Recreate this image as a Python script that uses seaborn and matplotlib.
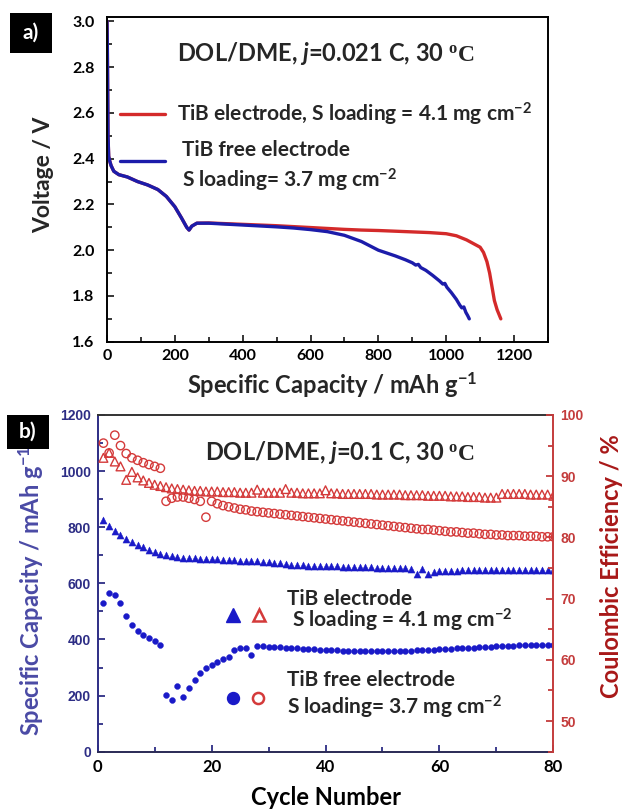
import matplotlib
matplotlib.use("Agg")
import matplotlib.pyplot as plt
from matplotlib.patches import Rectangle
from matplotlib.ticker import MultipleLocator
import seaborn as sns

# ---------------- (a) first discharge profiles ----------------
cap_tib = [0, 1, 2, 3, 5, 8, 12, 20, 35, 60, 90, 120, 150, 175, 200, 220, 235, 242, 250, 265,
           300, 350, 400, 450, 500, 550, 600, 650, 700, 750, 800, 850, 900, 950, 1000, 1030,
           1060, 1085, 1100, 1110, 1120, 1128, 1135, 1142, 1150, 1161]
volt_tib = [3.00, 2.90, 2.70, 2.50, 2.41, 2.39, 2.37, 2.345, 2.33, 2.32, 2.30, 2.285, 2.265,
            2.235, 2.19, 2.14, 2.10, 2.088, 2.105, 2.118, 2.119, 2.116, 2.113, 2.110, 2.107,
            2.103, 2.099, 2.095, 2.091, 2.088, 2.086, 2.083, 2.080, 2.077, 2.072, 2.063, 2.045,
            2.025, 2.013, 1.99, 1.95, 1.90, 1.84, 1.78, 1.74, 1.70]

cap_free = [0, 1, 2, 3, 5, 8, 12, 20, 35, 60, 90, 120, 150, 175, 200, 220, 235, 242, 250, 265,
            300, 350, 400, 450, 500, 550, 600, 650, 700, 750, 800, 850, 880, 900, 910, 918, 925,
            940, 960, 980, 990, 996, 1002, 1015, 1030, 1040, 1046, 1052, 1058, 1063, 1068]
volt_free = [3.00, 2.90, 2.70, 2.50, 2.41, 2.39, 2.37, 2.345, 2.33, 2.32, 2.30, 2.285, 2.265,
             2.235, 2.19, 2.14, 2.10, 2.088, 2.105, 2.118, 2.118, 2.114, 2.110, 2.106, 2.102,
             2.097, 2.090, 2.081, 2.065, 2.038, 2.000, 1.975, 1.958, 1.945, 1.935, 1.938, 1.924,
             1.912, 1.890, 1.866, 1.852, 1.855, 1.838, 1.815, 1.785, 1.760, 1.748, 1.752, 1.728,
             1.715, 1.700]

# ---------------- (b) cycling at 0.1 C ----------------
cycles = list(range(1, 81))
capacity_tib = [826, 806, 787, 771, 758, 747, 737, 728, 720, 713,
                706, 701, 697, 694, 692, 690, 689, 688, 687, 686,
                685, 684, 683, 682, 681, 680, 679, 678, 677, 676,
                674, 672, 669, 667, 665, 664, 663, 662, 661, 661,
                660, 660, 659, 659, 658, 658, 657, 657, 656, 656,
                655, 655, 654, 653, 652, 633, 652, 633, 640, 643,
                644, 645, 645, 646, 646, 647, 647, 647, 648, 648,
                648, 648, 648, 648, 648, 648, 648, 648, 648, 648]
capacity_free = [531, 567, 559, 529, 484, 452, 431, 417, 405, 393,
                 381, 203, 183, 235, 195, 227, 256, 282, 298, 310,
                 321, 330, 339, 361, 369, 371, 345, 375, 375, 374,
                 373, 372, 371, 370, 368, 367, 366, 365, 364, 363,
                 362, 361, 360, 360, 359, 359, 358, 358, 358, 358,
                 358, 359, 359, 360, 360, 361, 362, 363, 364, 365,
                 366, 367, 368, 369, 370, 371, 372, 373, 374, 375,
                 376, 377, 378, 379, 379, 380, 380, 380, 380, 380]
ce_tib = [93.0, 93.8, 92.4, 91.6, 89.4, 90.7, 89.8, 89.3, 88.9, 88.6,
          88.4, 88.2, 88.0, 87.9, 87.8, 87.7, 87.6, 87.6, 87.5, 87.5,
          87.5, 87.4, 87.4, 87.4, 87.3, 87.3, 87.3, 87.8, 87.3, 87.3,
          87.3, 87.3, 87.9, 87.3, 87.3, 87.2, 87.2, 87.2, 87.2, 87.7,
          87.2, 87.2, 87.1, 87.1, 87.1, 87.1, 87.1, 87.1, 87.0, 87.0,
          87.0, 87.0, 87.0, 86.9, 86.9, 86.9, 86.9, 86.8, 86.8, 86.8,
          86.8, 86.7, 86.7, 86.7, 86.6, 86.6, 86.6, 86.5, 86.5, 86.5,
          87.1, 87.1, 87.1, 87.1, 87.1, 87.0, 87.0, 87.0, 87.0, 86.8]
ce_free = [95.4, 93.8, 96.7, 95.0, 93.7, 93.0, 92.6, 92.2, 91.9, 91.6,
           91.3, 85.9, 86.4, 86.6, 86.6, 86.4, 86.2, 85.9, 83.3, 85.9,
           85.5, 85.2, 85.0, 84.8, 84.6, 84.5, 84.3, 84.2, 84.1, 84.0,
           83.9, 83.8, 83.7, 83.6, 83.5, 83.4, 83.3, 83.2, 83.1, 83.0,
           82.9, 82.8, 82.7, 82.6, 82.5, 82.4, 82.3, 82.2, 82.1, 82.0,
           81.9, 81.8, 81.7, 81.6, 81.5, 81.4, 81.3, 81.3, 81.2, 81.1,
           81.0, 80.9, 80.9, 80.8, 80.7, 80.7, 80.6, 80.5, 80.5, 80.4,
           80.4, 80.3, 80.3, 80.3, 80.2, 80.2, 80.2, 80.1, 80.1, 80.1]

RED_LINE = "#d42a2a"
BLUE_LINE = "#1c1caa"
BLUE_MK = "#1a1ac8"
RED_MK = "#d43a3a"
NAVY = "#2d2d85"
NAVY_LABEL = "#4a4aa5"
RED_AXIS = "#c43c3c"
RED_LABEL = "#a81818"

TITLE_FS = 17
LEGEND_FS = 15
LABEL_FS = 17

sns.set_theme(style="ticks")
plt.rcParams.update({
    "font.family": ["Lato", "DejaVu Sans"],
    "font.weight": "bold",
    "axes.labelweight": "bold",
    "mathtext.fontset": "custom",
    "mathtext.rm": "Liberation Serif",
    "mathtext.bf": "Lato:bold",
    "mathtext.it": "Lato:bold:italic",
    "axes.linewidth": 1.4,
    "axes.edgecolor": "black",
})

fig = plt.figure(figsize=(6.22, 8.10), dpi=100)

# ======================= panel (a) =======================
ax1 = fig.add_axes([0.1720, 0.5781, 0.7090, 0.4012])
sns.lineplot(x=cap_tib, y=volt_tib, ax=ax1, color=RED_LINE, lw=2.4,
             sort=False, estimator=None)
sns.lineplot(x=cap_free, y=volt_free, ax=ax1, color=BLUE_LINE, lw=2.4,
             sort=False, estimator=None)
ax1.set_xlim(0, 1300)
ax1.set_ylim(1.6, 3.02)
ax1.xaxis.set_major_locator(MultipleLocator(200))
ax1.xaxis.set_minor_locator(MultipleLocator(100))
ax1.yaxis.set_minor_locator(MultipleLocator(0.1))
ax1.set_yticks([1.6, 1.8, 2.0, 2.2, 2.4, 2.6, 2.8, 3.0])
ax1.tick_params(which="both", direction="in", top=False, right=False,
                labelsize=11.5, labelcolor="black", width=1.3)
ax1.tick_params(axis="x", which="major", length=5, pad=5)
ax1.tick_params(axis="x", which="minor", length=3.5)
ax1.tick_params(axis="y", which="major", length=5, pad=9)
ax1.tick_params(axis="y", which="minor", length=3.5)
for sp in ax1.spines.values():
    sp.set_color("black")
    sp.set_linewidth(1.4)

ax1.set_xlabel(r"Specific Capacity / mAh g$^{\mathbf{-1}}$", fontsize=LABEL_FS, va="center")
ax1.xaxis.set_label_coords(0.510, -0.133)
ax1.set_ylabel("Voltage / V", fontsize=16.5, va="center")
ax1.yaxis.set_label_coords(-0.143, 0.513)

ax1.text(0.159, 0.888, r"DOL/DME, $\it{j}$=0.021 C, 30 $\mathrm{{}^{o}C}$",
         transform=ax1.transAxes, fontsize=TITLE_FS, ha="left", va="center")

# legend glyphs and labels
ax1.plot([0.0295, 0.1315], [0.7006, 0.7006], transform=ax1.transAxes,
         color=RED_LINE, lw=2.4, clip_on=False)
ax1.plot([0.0295, 0.1315], [0.556, 0.556], transform=ax1.transAxes,
         color=BLUE_LINE, lw=2.4, clip_on=False)
ax1.text(0.159, 0.700, r"TiB electrode, S loading = 4.1 mg cm$^{\mathbf{-2}}$",
         transform=ax1.transAxes, fontsize=LEGEND_FS, ha="left", va="center")
ax1.text(0.170, 0.590, "TiB free electrode",
         transform=ax1.transAxes, fontsize=LEGEND_FS, ha="left", va="center")
ax1.text(0.170, 0.497, r"S loading= 3.7 mg cm$^{\mathbf{-2}}$",
         transform=ax1.transAxes, fontsize=LEGEND_FS, ha="left", va="center")

# ======================= panel (b) =======================
ax2 = fig.add_axes([0.1571, 0.0720, 0.7325, 0.4157])
ax2r = ax2.twinx()

sns.scatterplot(x=cycles, y=capacity_tib, ax=ax2, marker="^", s=26,
                color=BLUE_MK, edgecolor=BLUE_MK, linewidth=0.3, zorder=3)
sns.scatterplot(x=cycles, y=capacity_free, ax=ax2, marker="o", s=18,
                color=BLUE_MK, edgecolor=BLUE_MK, linewidth=0.3, zorder=3)
sns.scatterplot(x=cycles, y=ce_tib, ax=ax2r, marker="^", s=40,
                color=RED_MK, facecolor="none", edgecolor=RED_MK, linewidth=1.0, zorder=3)
sns.scatterplot(x=cycles, y=ce_free, ax=ax2r, marker="o", s=36,
                color=RED_MK, facecolor="none", edgecolor=RED_MK, linewidth=1.0, zorder=3)

ax2.set_xlim(0, 80)
ax2.set_ylim(0, 1200)
ax2r.set_ylim(45, 100)
ax2.xaxis.set_major_locator(MultipleLocator(20))
ax2.xaxis.set_minor_locator(MultipleLocator(10))
ax2.yaxis.set_minor_locator(MultipleLocator(100))
ax2r.yaxis.set_minor_locator(MultipleLocator(5))

cap_ticks = [0, 200, 400, 600, 800, 1000, 1200]
ax2.set_yticks(cap_ticks, [str(t) for t in cap_ticks],
               fontfamily="Liberation Sans", fontweight="bold", fontsize=10, color=NAVY)
ce_ticks = [50, 60, 70, 80, 90, 100]
ax2r.set_yticks(ce_ticks, [str(t) for t in ce_ticks],
                fontfamily="Liberation Sans", fontweight="bold", fontsize=10, color=RED_AXIS)

ax2.tick_params(which="both", direction="in", top=False, right=False, width=1.3)
ax2.tick_params(axis="x", which="major", length=5, pad=5, labelsize=12, labelcolor="black",
                color=NAVY)
ax2.tick_params(axis="x", which="minor", length=3.5, color=NAVY)
ax2.tick_params(axis="y", which="major", length=5, pad=5, color=NAVY)
ax2.tick_params(axis="y", which="minor", length=3.5, color=NAVY)
ax2r.tick_params(which="both", direction="in", left=False, right=True, width=1.3,
                 color=RED_AXIS)
ax2r.tick_params(axis="y", which="major", length=5, pad=5)
ax2r.tick_params(axis="y", which="minor", length=3.5)

ax2.spines["left"].set_color(NAVY)
ax2.spines["bottom"].set_color("#2a2a55")
ax2.spines["top"].set_color("#333333")
ax2.spines["right"].set_visible(False)
for side in ("left", "top", "bottom"):
    ax2r.spines[side].set_visible(False)
ax2r.spines["right"].set_color(RED_AXIS)
for sp in list(ax2.spines.values()) + [ax2r.spines["right"]]:
    sp.set_linewidth(1.4)

ax2.set_xlabel("Cycle Number", fontsize=LABEL_FS, color="black", va="center")
ax2.xaxis.set_label_coords(0.5, -0.135)
ax2.set_ylabel(r"Specific Capacity / mAh g$^{\mathbf{-1}}$", fontsize=LABEL_FS,
               color=NAVY_LABEL, va="center")
ax2.yaxis.set_label_coords(-0.146, 0.477)
ax2r.set_ylabel("Coulombic Efficiency / %", fontsize=LABEL_FS, color=RED_LABEL, va="center")
ax2r.yaxis.set_label_coords(1.127, 0.552)

ax2.text(0.235, 0.890, r"DOL/DME, $\it{j}$=0.1 C, 30 $\mathrm{{}^{o}C}$",
         transform=ax2.transAxes, fontsize=TITLE_FS, ha="left", va="center")

# legend glyphs
ax2r.plot([0.297], [0.4065], transform=ax2.transAxes, marker="^", ms=9.4,
          color=BLUE_MK, mec=BLUE_MK, ls="none", clip_on=False)
ax2r.plot([0.354], [0.4065], transform=ax2.transAxes, marker="^", ms=9.0,
          mfc="white", mec=RED_MK, mew=1.8, ls="none", clip_on=False)
ax2r.plot([0.297], [0.160], transform=ax2.transAxes, marker="o", ms=8.6,
          color=BLUE_MK, mec=BLUE_MK, ls="none", clip_on=False)
ax2r.plot([0.352], [0.160], transform=ax2.transAxes, marker="o", ms=8.0,
          mfc="white", mec=RED_MK, mew=1.8, ls="none", clip_on=False)
ax2r.text(0.415, 0.454, "TiB electrode", transform=ax2.transAxes,
          fontsize=LEGEND_FS, ha="left", va="center")
ax2r.text(0.426, 0.389, r"S loading = 4.1 mg cm$^{\mathbf{-2}}$", transform=ax2.transAxes,
          fontsize=LEGEND_FS, ha="left", va="center")
ax2r.text(0.415, 0.214, "TiB free electrode", transform=ax2.transAxes,
          fontsize=LEGEND_FS, ha="left", va="center")
ax2r.text(0.415, 0.131, r"S loading= 3.7 mg cm$^{\mathbf{-2}}$", transform=ax2.transAxes,
          fontsize=LEGEND_FS, ha="left", va="center")

# panel tags
for (x0, y0, w, h, tag) in [(0.0161, 0.9346, 0.0675, 0.0494, "a)"),
                            (0.0113, 0.4457, 0.0675, 0.0420, "b)")]:
    fig.add_artist(Rectangle((x0, y0), w, h, transform=fig.transFigure,
                             facecolor="black", edgecolor="none"))
    fig.text(x0 + w / 2, y0 + h / 2, tag, color="white", fontsize=15,
             ha="center", va="center")

fig.savefig("out.png", dpi=100)
